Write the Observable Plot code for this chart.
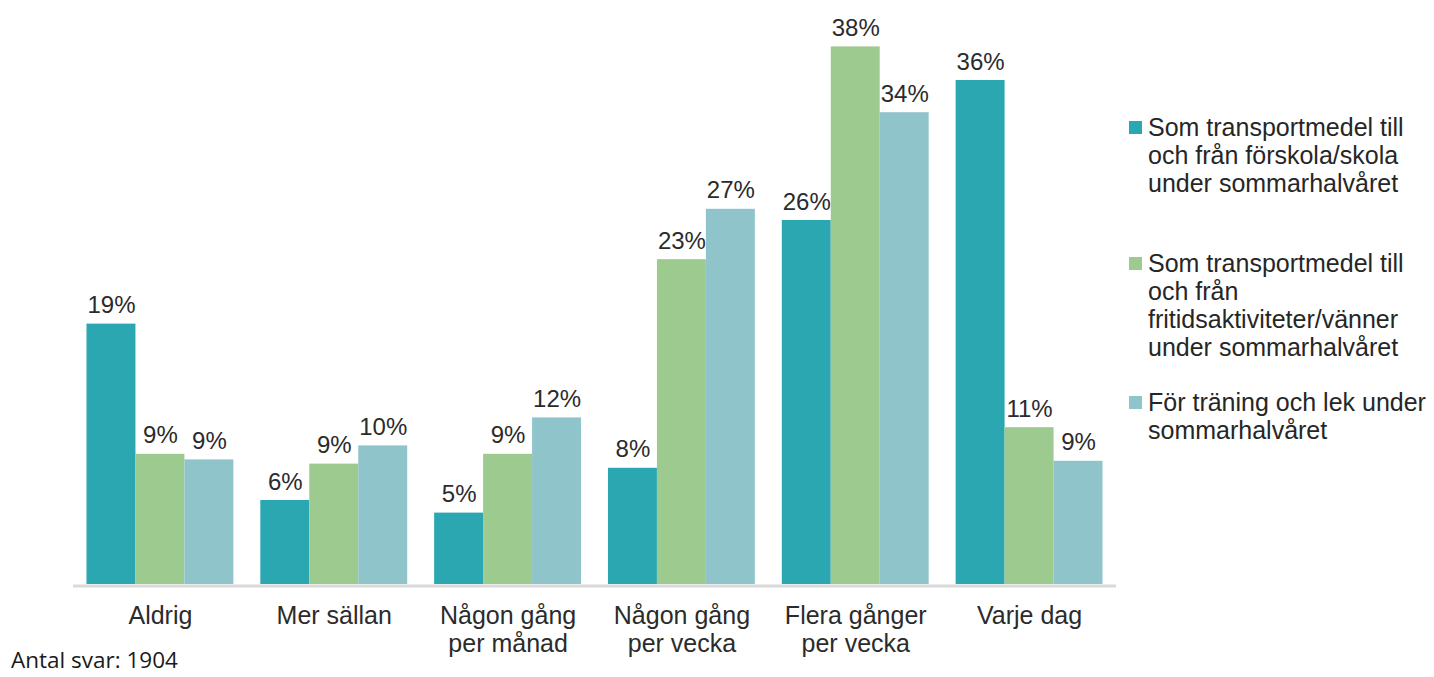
<!DOCTYPE html>
<html>
<head>
<meta charset="utf-8">
<script src="https://cdn.jsdelivr.net/npm/d3@7"></script>
<script src="https://cdn.jsdelivr.net/npm/@observablehq/plot@0.6"></script>
<style>
  html, body { margin: 0; padding: 0; background: #fff; }
  #wrap { position: relative; width: 1434px; height: 677px; font-family: "Liberation Sans", Arial, sans-serif; color: #262626; }
  #legend { position: absolute; left: 1129px; top: 0; font-size: 25px; line-height: 28px; }
  .item { position: absolute; left: 0; white-space: nowrap; }
  .sw { position: absolute; left: 0; top: 8px; width: 13px; height: 13px; }
  .lbl { position: absolute; left: 19px; top: 0; }
  #caption { position: absolute; left: 11px; top: 649px; font-family: "Open Sans", sans-serif; font-size: 22.5px; line-height: 22px; color: #1a1a1a; white-space: nowrap; }
</style>
</head>
<body>
<div id="wrap">
  <div id="chart"></div>
  <div id="legend"></div>
  <div id="caption">Antal svar: 1904</div>
</div>
<script>
// Categories (x axis), with line breaks as in the reference
const categories = ["Aldrig", "Mer sällan", "Någon gång\nper månad", "Någon gång\nper vecka", "Flera gånger\nper vecka", "Varje dag"];
// Series names (legend)
const seriesNames = [
  "Som transportmedel till\noch från förskola/skola\nunder sommarhalvåret",
  "Som transportmedel till\noch från\nfritidsaktiviteter/vänner\nunder sommarhalvåret",
  "För träning och lek under\nsommarhalvåret"
];
// Values (share); labels are rounded percentages
const seriesSkola   = [0.186, 0.060, 0.051, 0.083, 0.260, 0.360];
const seriesFritid  = [0.093, 0.086, 0.093, 0.232, 0.384, 0.112];
const seriesTraning = [0.089, 0.099, 0.119, 0.268, 0.337, 0.088];
const seriesColors  = ["#2ba7b2", "#9dca8e", "#8fc4ca"];

const seriesValues = [seriesSkola, seriesFritid, seriesTraning];
const rows = [];
seriesValues.forEach((vals, si) => {
  vals.forEach((v, ci) => rows.push({cat: categories[ci], series: seriesNames[si], si, value: v}));
});

const W = 1434, H = 650;
const mL = 73, mR = W - 1116;
const pInner = 0.155, pOuter = 0.0776;
const step = (W - mL - mR) / (categories.length - pInner + 2 * pOuter);
const bw = step * (1 - pInner) / 3;

const marks = [];
seriesNames.forEach((s, i) => {
  const d = rows.filter(r => r.si === i);
  marks.push(Plot.barY(d, {
    x: "cat", y: "value", fill: seriesColors[i],
    insetLeft: i * bw, insetRight: (2 - i) * bw
  }));
  marks.push(Plot.text(d, {
    x: "cat", y: "value", text: r => Math.round(r.value * 100) + "%",
    dx: (i - 1) * bw, dy: -11, lineAnchor: "bottom",
    fontSize: 24, fill: "#2b2b2b"
  }));
});
marks.push(Plot.ruleY([0], {stroke: "#d9d9d9", strokeWidth: 3, dy: 1.5}));
marks.push(Plot.text(categories, {
  x: d => d, y: () => 0, text: d => d, lineAnchor: "top", dy: 20,
  fontSize: 25, lineHeight: 1.12, fill: "#2b2b2b"
}));

const chart = Plot.plot({
  width: W, height: H,
  marginLeft: mL, marginRight: mR, marginTop: 24, marginBottom: H - 584,
  style: {fontFamily: '"Liberation Sans", Arial, sans-serif', background: "#fff", overflow: "visible"},
  x: {domain: categories, paddingInner: pInner, paddingOuter: pOuter, round: false, axis: null},
  y: {domain: [0, 0.4], axis: null},
  marks
});
document.getElementById("chart").appendChild(chart);

// Legend
const legendTops = [113, 249, 388];
const legend = document.getElementById("legend");
seriesNames.forEach((s, i) => {
  const item = document.createElement("div");
  item.className = "item";
  item.style.top = legendTops[i] + "px";
  const sw = document.createElement("div");
  sw.className = "sw";
  sw.style.background = seriesColors[i];
  const lbl = document.createElement("div");
  lbl.className = "lbl";
  lbl.innerHTML = s.split("\n").join("<br>");
  item.appendChild(sw);
  item.appendChild(lbl);
  legend.appendChild(item);
});
</script>
</body>
</html>
